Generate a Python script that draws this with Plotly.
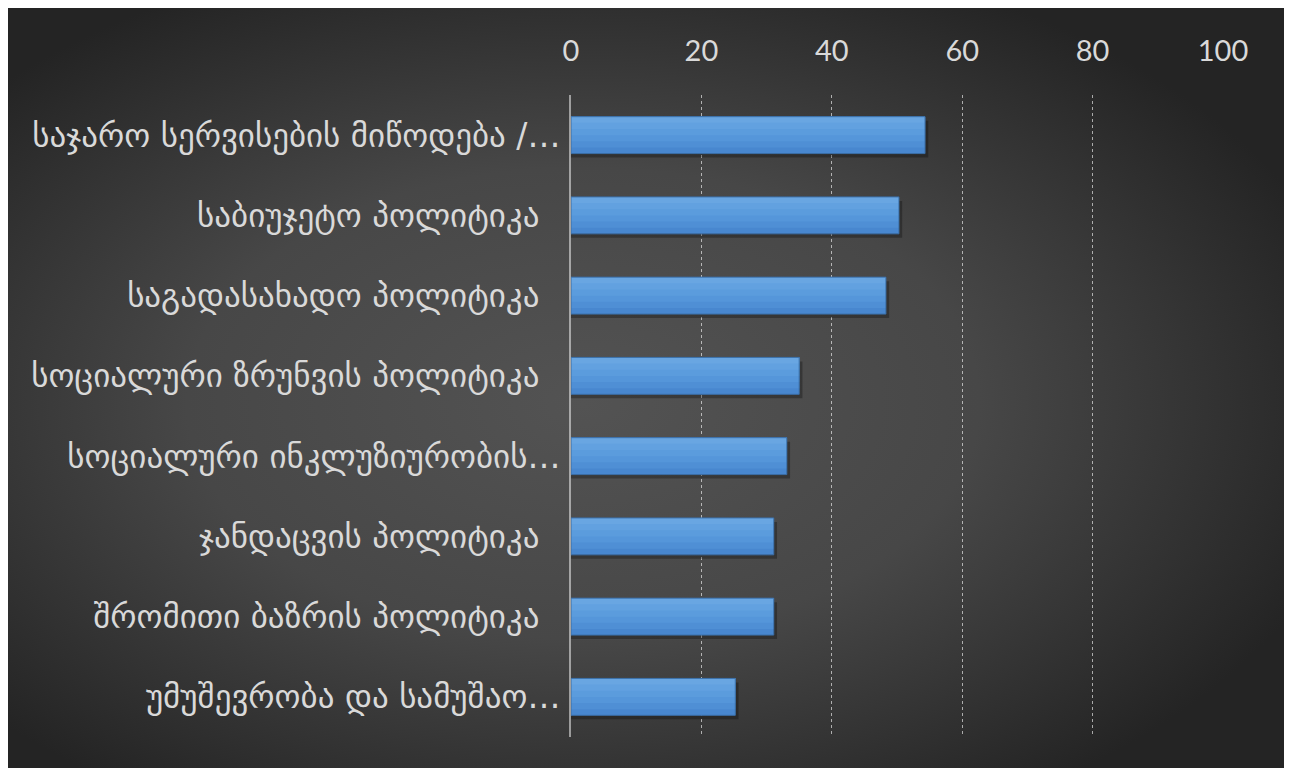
import base64
import plotly.graph_objects as go

categories = [
    "საჯარო სერვისების მიწოდება /…",
    "საბიუჯეტო პოლიტიკა ",
    "საგადასახადო პოლიტიკა ",
    "სოციალური ზრუნვის პოლიტიკა ",
    "სოციალური ინკლუზიურობის…",
    "ჯანდაცვის პოლიტიკა ",
    "შრომითი ბაზრის პოლიტიკა ",
    "უმუშევრობა და სამუშაო…",
]
values = [54.3, 50.3, 48.3, 35.0, 33.1, 31.1, 31.1, 25.2]
x_ticks = [0, 20, 40, 60, 80, 100]

# trailing space kept visible as non-breaking padding
ticktext = [c.rstrip() + ("\u00a0\u00a0" if c.endswith(" ") else "") for c in categories]

W, H = 1278, 760
L, R, T, B = 563, 63, 87, 31
pw, ph = W - L - R, H - T - B

svg = """<svg xmlns='http://www.w3.org/2000/svg' width='1278' height='760' viewBox='0 0 1278 760' preserveAspectRatio='none'>
<defs><radialGradient id='g' cx='0.45' cy='0.52' r='0.62' gradientUnits='objectBoundingBox'>
<stop offset='0' stop-color='#535353'/><stop offset='0.5' stop-color='#474747'/><stop offset='1' stop-color='#242424'/>
</radialGradient></defs><rect width='1278' height='760' fill='url(#g)'/></svg>"""
src = "data:image/svg+xml;base64," + base64.b64encode(svg.encode()).decode()

fig = go.Figure()
BW = 0.46
# soft shadow
fig.add_trace(go.Bar(
    y=categories, x=[v + 0.5 for v in values], orientation="h",
    marker=dict(color="rgba(0,0,0,0.28)", line=dict(width=0)),
    width=BW, offset=-BW / 2 + 0.05, hoverinfo="skip", showlegend=False,
))
# vertical gradient: overlapping bars anchored at the top edge, darkest (full) to lightest (thin)
band_colors = ["#4887cf", "#4f8fd5", "#5596da", "#5b9cdd", "#62a1e0", "#69a6e2"]
nb = len(band_colors)
for i, col in enumerate(band_colors):
    fig.add_trace(go.Bar(
        y=categories, x=values, orientation="h",
        marker=dict(color=col, line=dict(width=0)),
        width=BW * (nb - i) / nb, offset=-BW / 2, hoverinfo="skip", showlegend=False,
    ))
# outline
fig.add_trace(go.Bar(
    y=categories, x=values, orientation="h",
    marker=dict(color="rgba(0,0,0,0)", line=dict(color="#3b6ea6", width=1)),
    width=BW, offset=-BW / 2, showlegend=False,
))

fig.update_layout(
    width=W, height=H,
    margin=dict(l=L, r=R, t=T, b=B, pad=0),
    paper_bgcolor="#333333", plot_bgcolor="rgba(0,0,0,0)",
    barmode="overlay",
    images=[dict(source=src, xref="paper", yref="paper",
                 x=-L / pw, y=(H - B) / ph, sizex=W / pw, sizey=H / ph,
                 xanchor="left", yanchor="top", sizing="stretch", layer="below")],
    xaxis=dict(
        side="top", range=[0, 100], tickvals=x_ticks, ticktext=[str(v) for v in x_ticks],
        showgrid=True, gridcolor="rgba(255,255,255,0.6)", griddash="dot", gridwidth=1,
        zeroline=False, ticks="outside", ticklen=21, tickcolor="rgba(0,0,0,0)",
        tickfont=dict(family="Lato", size=29, color="#d9d9d9"),
    ),
    yaxis=dict(
        autorange="reversed", tickmode="array", tickvals=categories, ticktext=ticktext,
        showline=True, linecolor="rgba(255,255,255,0.5)", linewidth=2,
        showgrid=False, ticks="", ticklabelstandoff=2,
        tickfont=dict(family="DejaVu Sans", size=33, color="#d9d9d9"),
    ),
)

fig.write_html("out.html")
